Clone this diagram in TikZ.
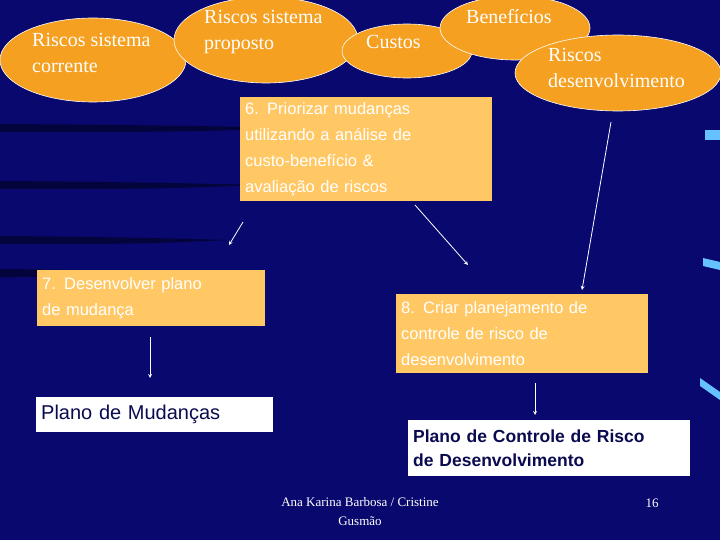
\documentclass[tikz,border=0pt]{standalone}
\usepackage{fontspec}
\setmainfont{Liberation Serif}
\setsansfont{Liberation Sans}
\begin{document}
\begin{tikzpicture}[x=1pt,y=-1pt,
  ell/.style={ellipse,draw=white,line width=0.6pt,fill={rgb,255:red,245;green,160;blue,32}},
  etext/.style={text=white,font=\fontsize{20}{26}\selectfont,align=left,anchor=north west,inner sep=0pt},
  obox/.style={fill={rgb,255:red,255;green,200;blue,100},text=white,font=\sffamily\fontsize{16.5}{26}\selectfont,align=left,anchor=north west,inner sep=5pt},
  wbox/.style={fill=white,text={rgb,255:red,10;green,10;blue,80},align=left,inner sep=5pt},
  arr/.style={draw=white,line width=0.8pt,-stealth}]
\usetikzlibrary{shapes.geometric}
\definecolor{navy}{RGB}{8,8,110}
\fill[navy] (0,0) rectangle (720,540);
\useasboundingbox (0,0) rectangle (720,540);
% dark streaks
\foreach \yy/\ww in {128/300,185/260,240/230,273/200}
  \fill[black,opacity=0.45] (0,\yy-4) .. controls (\ww*0.6,\yy-3) and (\ww,\yy) .. (\ww,\yy) .. controls (\ww*0.6,\yy+4) .. (0,\yy+4) -- cycle;
% right edge light streaks
\fill[blue!40!cyan!60] (705,130) rectangle (720,140);
\fill[blue!40!cyan!60] (703,258) -- (720,262) -- (720,270) -- (703,266) -- cycle;
\fill[blue!40!cyan!60] (700,378) -- (720,392) -- (720,400) -- (700,386) -- cycle;
% ellipses
\node[ell,minimum width=186pt,minimum height=84pt] (e1) at (93,60) {};
\node[etext] at (32,33) {Riscos sistema\\corrente};
\node[ell,minimum width=184pt,minimum height=86pt] (e2) at (266,40) {};
\node[etext] at (204,10) {Riscos sistema\\proposto};
\node[ell,minimum width=130pt,minimum height=54pt] (e3) at (407,51) {};
\node[etext] at (366,35) {Custos};
\node[ell,minimum width=150pt,minimum height=64pt] (e4) at (515,28) {};
\node[etext] at (466,9) {Benefícios};
\node[ell,minimum width=206pt,minimum height=76pt] (e5) at (618,73) {};
\node[etext] at (548,48) {Riscos\\desenvolvimento};
% boxes
\node[obox,text width=242pt,minimum height=103pt] (b6) at (240,97) {6. Priorizar mudanças\\utilizando a análise de\\custo-benefício \&\\avaliação de riscos};
\node[obox,text width=218pt,minimum height=56pt] (b7) at (37,270) {7. Desenvolver plano\\de mudança};
\node[obox,text width=242pt,minimum height=79pt] (b8) at (396,294) {8. Criar planejamento de\\controle de risco de\\desenvolvimento};
\node[wbox,anchor=north west,text width=227pt,minimum height=35pt,font=\sffamily\fontsize{20}{24}\selectfont] (w1) at (36,397) {Plano de Mudanças};
\node[wbox,anchor=north west,text width=272pt,minimum height=56pt,font=\sffamily\bfseries\fontsize{17.5}{24}\selectfont] (w2) at (408,420) {Plano de Controle de Risco\\de Desenvolvimento};
% footer
\node[text=white,font=\fontsize{13}{19}\selectfont,align=center] (f1) at (360,512) {Ana Karina Barbosa / Cristine\\Gusmão};
\node[text=white,font=\fontsize{13}{19}\selectfont] (f2) at (652,503) {16};
% arrows
\coordinate (a1s) at (243,222); \coordinate (a1e) at (229,245);
\coordinate (a2s) at (415,205); \coordinate (a2e) at (468,265);
\coordinate (a3s) at (611,122); \coordinate (a3e) at (582,290);
\coordinate (a4s) at (150,337); \coordinate (a4e) at (150,378);
\coordinate (a5s) at (535,383); \coordinate (a5e) at (535,415);
\draw[arr] (a1s) -- (a1e);
\draw[arr] (a2s) -- (a2e);
\draw[arr] (a3s) -- (a3e);
\draw[arr] (a4s) -- (a4e);
\draw[arr] (a5s) -- (a5e);
\end{tikzpicture}
\end{document}
